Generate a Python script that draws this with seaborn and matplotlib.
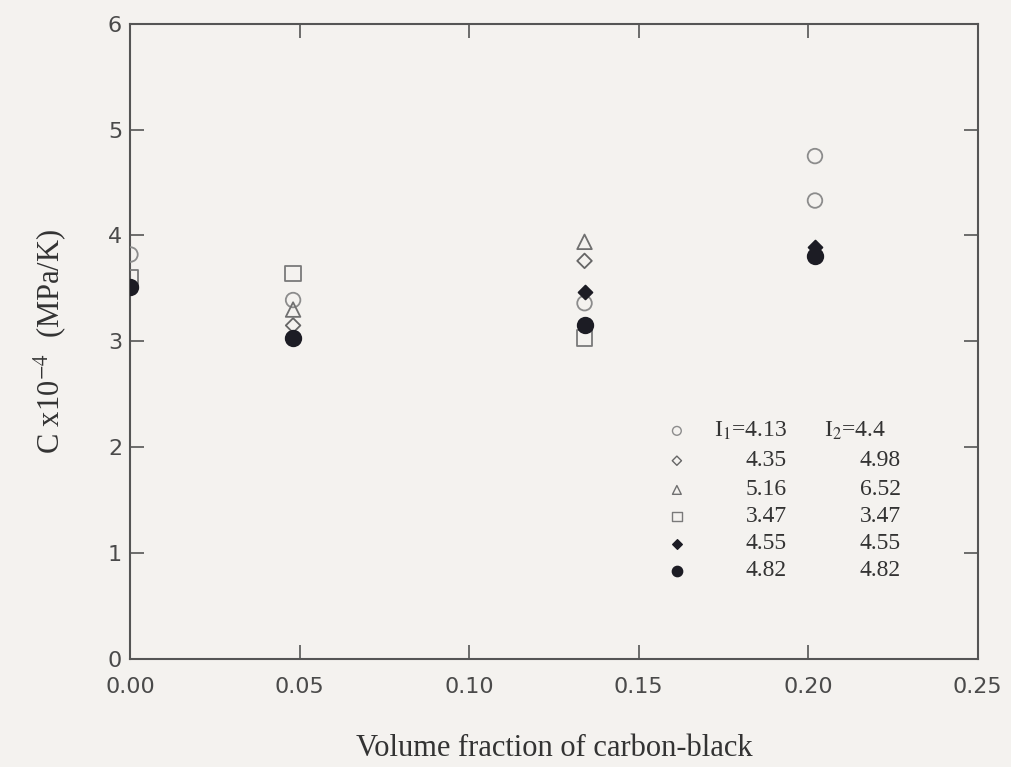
import numpy as np
import pandas as pd
import matplotlib
matplotlib.use('Agg')
import matplotlib.pyplot as plt
import seaborn as sns

# data
x_circle = [0.0, 0.048, 0.134, 0.202, 0.202]
y_circle = [3.82, 3.39, 3.36, 4.75, 4.33]
x_diamond = [0.048, 0.134]
y_diamond = [3.15, 3.76]
x_triangle = [0.048, 0.134]
y_triangle = [3.30, 3.94]
x_square = [0.0, 0.048, 0.134]
y_square = [3.60, 3.64, 3.03]
x_fdiamond = [0.134, 0.202]
y_fdiamond = [3.47, 3.89]
x_fcircle = [0.0, 0.048, 0.134, 0.202]
y_fcircle = [3.51, 3.03, 3.15, 3.81]

i1_labels = ['4.13', '4.35', '5.16', '3.47', '4.55', '4.82']
i2_labels = ['4.4', '4.98', '6.52', '3.47', '4.55', '4.82']

bg = '#f4f2ef'
sns.set_theme(style='ticks')
plt.rcParams['font.family'] = ['DejaVu Sans']
plt.rcParams['mathtext.fontset'] = 'stix'

# marker styles per series
styles = [
    ('circle', 'o', 'none', '#8c8c8c', 110),
    ('diamond', 'D', 'none', '#666666', 55),
    ('triangle', '^', 'none', '#707070', 110),
    ('square', 's', 'none', '#7a7a7a', 130),
    ('fdiamond', 'D', '#1c1c24', '#1c1c24', 50),
    ('fcircle', 'o', '#1c1c24', '#1c1c24', 125),
]
series = {
    'circle': (x_circle, y_circle),
    'diamond': (x_diamond, y_diamond),
    'triangle': (x_triangle, y_triangle),
    'square': (x_square, y_square),
    'fdiamond': (x_fdiamond, y_fdiamond),
    'fcircle': (x_fcircle, y_fcircle),
}

rows = []
for name, (xs, ys) in series.items():
    for xv, yv in zip(xs, ys):
        rows.append({'phi': xv, 'C': yv, 'series': name})
df = pd.DataFrame(rows)

fig = plt.figure(figsize=(10.11, 7.67), dpi=100, facecolor=bg)
ax = fig.add_axes([0.129, 0.141, 0.838, 0.828], facecolor=bg)

for name, mk, fc, ec, size in styles:
    sub = df[df['series'] == name]
    sns.scatterplot(data=sub, x='phi', y='C', marker=mk, s=size,
                    facecolors=fc, edgecolor=ec, linewidth=1.3, ax=ax,
                    legend=False, zorder=3)

ax.set_xlim(0, 0.25)
ax.set_ylim(0, 6)
ax.set_xticks(np.arange(0, 0.26, 0.05))
ax.set_yticks(range(0, 7))
ax.set_xticklabels(['0.00', '0.05', '0.10', '0.15', '0.20', '0.25'])
ax.tick_params(direction='in', length=10, width=1.2, color='#555555',
               labelsize=16, labelcolor='#4a4a4a', top=True, right=True, pad=6)
ax.tick_params(axis='x', pad=13)
for sp in ax.spines.values():
    sp.set_color('#555555')
    sp.set_linewidth(1.5)

ax.set_xlabel('Volume fraction of carbon-black', fontsize=22,
              family='Liberation Serif', color='#333333')
ax.set_ylabel(r'C x10$^{-4}$  (MPa/K)', fontsize=22,
              family='Liberation Serif', color='#333333')
ax.xaxis.set_label_coords(0.5, -0.118)
ax.yaxis.set_label_coords(-0.072, 0.5)

# hand-made key
leg_rows = [0.359, 0.312, 0.266, 0.224, 0.181, 0.139]
leg_sizes = [40, 22, 40, 45, 24, 55]
for k, (name, mk, fc, ec, size) in enumerate(styles):
    ax.scatter([0.645], [leg_rows[k]], transform=ax.transAxes, marker=mk,
               s=leg_sizes[k], facecolors=fc, edgecolors=ec, linewidths=1.0,
               zorder=3)
    t1 = i1_labels[k] if k else r'I$_1$=' + i1_labels[k]
    t2 = i2_labels[k] if k else r'I$_2$=' + i2_labels[k]
    ax.text(0.775, leg_rows[k], t1, transform=ax.transAxes, ha='right',
            va='center', fontsize=17, family='Liberation Serif', color='#333333')
    ax.text(0.892 if k == 0 else 0.909, leg_rows[k], t2, transform=ax.transAxes,
            ha='right', va='center', fontsize=17, family='Liberation Serif',
            color='#333333')

fig.savefig('out.png', dpi=100, facecolor=bg)
